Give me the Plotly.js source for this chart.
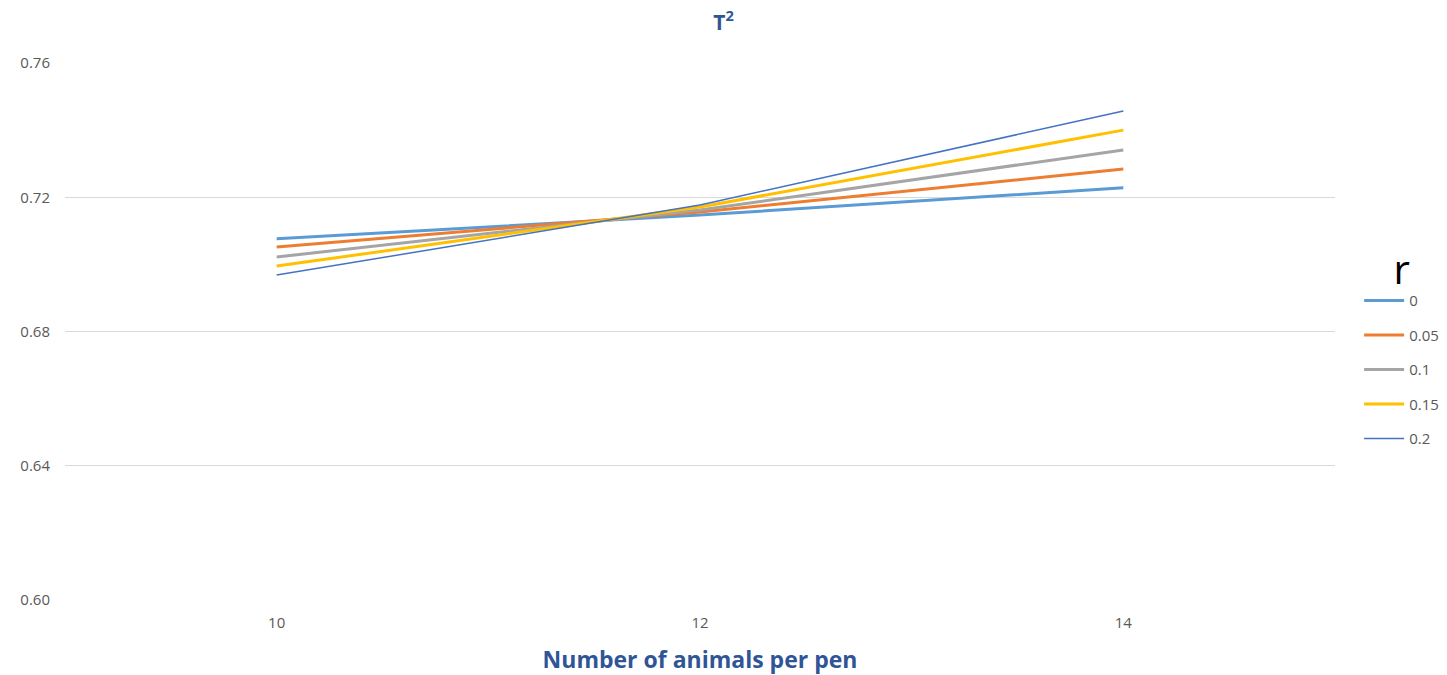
<!DOCTYPE html>
<html>
<head>
<meta charset="utf-8">
<script src="https://cdn.plot.ly/plotly-3.0.1.min.js"></script>
<style>html,body{margin:0;padding:0;background:#fff;}#chart{width:1447px;height:675px;}</style>
</head>
<body>
<div id="chart"></div>
<script>
const animals = [10, 12, 14];
const rLabels = ['0', '0.05', '0.1', '0.15', '0.2'];
const r0    = [0.7076, 0.7147, 0.7228];
const r005  = [0.7052, 0.7156, 0.7284];
const r01   = [0.7022, 0.7162, 0.7341];
const r015  = [0.6995, 0.7171, 0.7400];
const r02   = [0.6968, 0.7177, 0.7457];
const seriesValues = [r0, r005, r01, r015, r02];
const colors = ['#5b9bd5', '#ed7d31', '#a5a5a5', '#ffc000', '#4472c4'];
const widths = [3, 3, 3, 3, 1.5];
const yTicks = [0.60, 0.64, 0.68, 0.72, 0.76];

const traces = seriesValues.map((v, i) => ({
  x: animals, y: v, type: 'scatter', mode: 'lines', name: rLabels[i],
  legendgroup: 'g' + i,
  line: {color: colors[i], width: widths[i]}
}));

const layout = {
  width: 1447, height: 675,
  margin: {l: 65, r: 112, t: 63, b: 75, autoexpand: false},
  paper_bgcolor: '#fff', plot_bgcolor: '#fff',
  font: {family: 'Open Sans, Liberation Sans, sans-serif', color: '#595959', size: 15},
  title: {text: '<b>T<sup>2</sup></b>', x: 0.5, xanchor: 'center', y: 0.966, yanchor: 'middle',
          font: {size: 21, color: '#2f5597', family: 'Open Sans, sans-serif'}},
  xaxis: {range: [9, 15], tickvals: animals, ticktext: animals.map(String), showgrid: false,
          zeroline: false, showline: false, ticks: '', ticklabelstandoff: 12,
          tickfont: {size: 15, color: '#595959'},
          title: {text: '<b>Number of animals per pen</b>', standoff: 22,
                  font: {size: 23, color: '#2f5597', family: 'Open Sans, sans-serif'}}},
  yaxis: {range: [0.60, 0.76], tickvals: yTicks, ticktext: yTicks.map(v => v.toFixed(2)),
          showgrid: true, gridcolor: '#d9d9d9', gridwidth: 1, zeroline: false, showline: false,
          ticks: '', ticklabelstandoff: 14, tickfont: {size: 15, color: '#595959'}},
  showlegend: true,
  legend: {x: 1.019, xanchor: 'left', y: 0.685, yanchor: 'top', tracegroupgap: 12,
           title: {text: 'r', side: 'top center', font: {size: 40, color: '#000', family: 'Open Sans, sans-serif'}},
           font: {size: 15, color: '#595959'}, itemwidth: 40, bgcolor: 'rgba(0,0,0,0)'}
};

Plotly.newPlot('chart', traces, layout, {displayModeBar: false});
</script>
</body>
</html>
